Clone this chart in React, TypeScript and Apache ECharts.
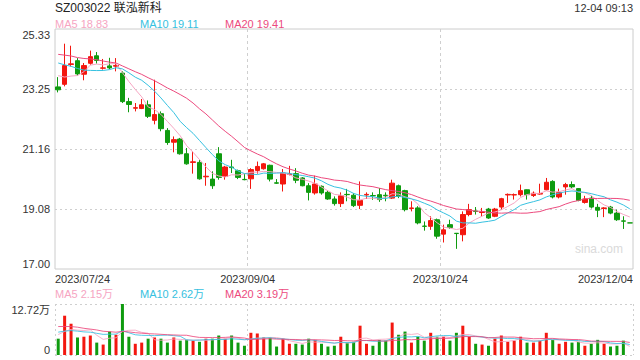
import React, { useEffect, useRef } from "react";
import * as echarts from "echarts";

// Trading days 2023/07/24 .. 2023/12/04
const dates = [
  "07-24","07-25","07-26","07-27","07-28","07-31",
  "08-01","08-02","08-03","08-04","08-07","08-08","08-09","08-10","08-11","08-14","08-15","08-16","08-17","08-18","08-21","08-22","08-23","08-24","08-25","08-28","08-29","08-30","08-31",
  "09-01","09-04","09-05","09-06","09-07","09-08","09-11","09-12","09-13","09-14","09-15","09-18","09-19","09-20","09-21","09-22","09-25","09-26","09-27","09-28",
  "10-09","10-10","10-11","10-12","10-13","10-16","10-17","10-18","10-19","10-20","10-23","10-24","10-25","10-26","10-27","10-30","10-31",
  "11-01","11-02","11-03","11-06","11-07","11-08","11-09","11-10","11-13","11-14","11-15","11-16","11-17","11-20","11-21","11-22","11-23","11-24","11-27","11-28","11-29","11-30",
  "12-01","12-04",
];

const opens = [
  23.32,23.41,24.10,24.23,23.76,24.14,24.40,23.97,24.05,24.04,
  23.80,22.81,22.58,22.57,22.70,22.16,22.39,21.81,21.40,21.51,
  21.00,20.70,20.70,20.20,20.12,21.00,20.21,20.54,20.41,20.11,
  20.13,20.42,20.48,20.60,19.99,19.95,20.28,20.31,20.16,19.89,
  19.64,19.87,19.66,19.43,19.27,19.59,19.56,19.21,19.57,19.55,
  19.58,19.56,19.46,19.89,19.72,19.10,19.12,18.49,18.48,18.71,
  18.21,18.54,18.24,18.19,18.89,19.01,18.96,19.08,18.83,19.15,
  19.57,19.57,19.58,19.75,19.55,19.60,19.75,20.04,19.50,19.85,
  19.93,19.79,19.31,19.46,19.14,19.10,19.15,18.94,18.67,18.60,
];
const closes = [
  23.22,24.06,24.12,23.77,24.06,24.37,24.24,23.98,23.98,24.06,
  22.81,22.71,22.60,22.70,22.30,22.36,21.87,21.39,21.49,21.00,
  20.65,20.72,20.13,20.22,19.89,20.18,20.54,20.52,20.18,20.10,
  20.45,20.56,20.65,20.12,19.98,20.33,20.30,20.08,19.89,19.66,
  19.95,19.64,19.43,19.27,19.54,19.58,19.20,19.38,19.59,19.54,
  19.41,19.54,19.98,19.52,19.06,19.12,18.60,18.48,18.68,18.14,
  18.36,18.44,18.23,18.89,19.06,19.00,18.98,18.77,19.08,19.44,
  19.59,19.58,19.72,19.58,19.63,19.62,20.01,19.50,19.66,19.93,
  19.85,19.38,19.43,19.15,19.04,19.12,18.94,18.71,18.66,18.60,
];
const lows = [
  23.13,23.34,24.03,23.71,23.55,24.09,24.13,23.92,23.93,23.86,
  22.76,22.44,22.47,22.55,22.24,22.02,21.78,21.31,21.05,20.97,
  20.62,20.31,20.10,19.89,19.78,20.10,20.10,20.33,20.12,20.08,
  19.78,20.31,20.45,20.04,19.95,19.69,20.25,19.98,19.87,19.38,
  19.58,19.58,19.40,19.20,19.15,19.35,19.15,19.08,19.43,19.40,
  19.33,19.35,19.43,19.46,19.00,19.00,18.55,18.33,18.36,18.05,
  17.92,18.39,17.70,17.96,18.83,18.89,18.83,18.74,18.80,19.06,
  19.29,19.41,19.52,19.41,19.50,19.58,19.73,19.45,19.45,19.58,
  19.80,19.35,19.27,19.10,18.80,18.80,18.90,18.67,18.39,18.60,
];
const highs = [
  23.66,24.82,24.75,24.32,24.15,24.58,24.53,24.29,24.33,24.32,
  23.86,22.94,22.76,22.90,22.85,23.57,22.47,21.89,21.60,21.55,
  21.20,21.08,20.79,20.68,20.39,21.23,20.58,20.79,20.45,20.31,
  20.50,20.73,20.68,20.62,20.12,20.47,20.58,20.50,20.19,19.98,
  20.24,19.90,19.73,19.52,19.66,19.78,19.63,20.04,19.66,19.66,
  19.81,19.66,20.10,19.93,19.75,19.35,19.18,18.65,18.83,18.75,
  18.54,18.71,18.25,19.00,19.26,19.15,19.12,19.12,19.12,19.47,
  19.62,19.62,19.93,19.76,19.69,19.96,20.16,20.08,19.79,19.99,
  20.04,19.81,19.54,19.54,19.26,19.15,19.19,19.06,18.83,18.60,
];
// volume in 万
const volumes = [
  4.07,9.80,7.80,4.37,4.56,4.86,3.09,2.60,5.84,5.05,
  12.72,4.56,2.80,3.09,4.07,4.37,4.07,3.09,4.37,3.58,
  3.78,3.58,3.29,4.07,4.07,4.86,4.07,4.86,3.09,2.31,
  5.54,5.35,4.37,4.37,2.11,4.07,2.80,2.80,2.60,4.07,
  3.78,2.80,2.11,2.31,4.56,3.09,3.29,7.31,2.80,2.31,
  3.78,3.58,8.09,5.05,5.84,3.09,4.56,3.58,5.54,4.56,
  4.56,3.58,5.54,7.31,4.56,2.80,2.60,2.31,4.07,4.86,
  3.29,3.58,4.56,3.09,3.09,3.58,5.54,3.78,2.80,3.29,
  3.09,3.29,2.31,2.80,3.78,2.80,2.11,2.31,3.58,0,
];
// estimated sessions before 07/24, only used to seed the moving averages
const priorCloses = [
  24.60,24.72,24.85,24.70,24.66,24.80,24.90,24.75,24.66,24.86,
  24.70,24.62,24.55,24.60,24.48,24.30,23.95,23.68,23.40,
];
const priorVolumes = [
  9.5,8.2,7.6,10.1,8.8,7.4,9.0,8.1,7.5,8.8,
  7.2,6.5,5.8,6.4,5.6,5.9,5.2,5.4,4.93,
];

const yTickLabels = ["17.00", "19.08", "21.16", "23.25", "25.33"];
const volTickLabels = ["0", "12.72万"];
const xTickLabels = ["2023/07/24", "2023/09/04", "2023/10/24", "2023/12/04"];
const priceLegend = [
  { name: "MA5", value: "18.83" },
  { name: "MA10", value: "19.11" },
  { name: "MA20", value: "19.41" },
];
const volLegend = [
  { name: "MA5", value: "2.15万" },
  { name: "MA10", value: "2.62万" },
  { name: "MA20", value: "3.19万" },
];
const maPeriods = [5, 10, 20];
const titleText = "SZ003022 联泓新科";
const timeText = "12-04 09:13";

const RED = "#f3170f";
const GREEN = "#0f9b0f";
const MA_COLORS = ["#f6a5c2", "#36c1e0", "#ec4a7e"];
const FONT = 'Arial, "Liberation Sans", "Noto Sans CJK SC", sans-serif';

function movingAverage(prior: number[], values: number[], n: number): number[] {
  const all = prior.concat(values);
  return values.map((_, i) => {
    const idx = prior.length + i;
    let s = 0;
    for (let k = idx - n + 1; k <= idx; k++) s += all[k];
    return +(s / n).toFixed(3);
  });
}

export default function App() {
  const ref = useRef<HTMLDivElement>(null);
  useEffect(() => {
    if (!ref.current) return;
    const chart = echarts.init(ref.current, undefined, { renderer: "svg" });

    const Y_MIN = 17, Y_MAX = 25.33, Y_INT = 2.0825;
    const candleData = opens.map((o, i) => [o, closes[i], lows[i], highs[i]]);
    const signs = closes.map((c, i) => {
      if (c > opens[i]) return 1;
      if (c < opens[i]) return -1;
      return i > 0 && closes[i - 1] > c ? -1 : 1;
    });
    const volData = volumes.map((v, i) => ({
      value: v,
      itemStyle: { color: signs[i] > 0 ? RED : GREEN },
    }));

    const priceMA = maPeriods.map((n, k) => ({
      type: "line",
      xAxisIndex: 0,
      yAxisIndex: 0,
      data: movingAverage(priorCloses, closes, n),
      symbol: "none",
      silent: true,
      lineStyle: { width: 1, color: MA_COLORS[k] },
      z: 3,
    }));
    const volMA = maPeriods.map((n, k) => ({
      type: "line",
      xAxisIndex: 2,
      yAxisIndex: 1,
      data: movingAverage(priorVolumes, volumes, n),
      symbol: "none",
      silent: true,
      lineStyle: { width: 1, color: MA_COLORS[k], opacity: 0.85 },
      z: 3,
    }));

    const legendItems: any[] = [];
    const legendX = [55, 140, 225];
    priceLegend.forEach((l, k) => {
      legendItems.push({
        type: "text", x: legendX[k], y: 24,
        style: { text: `${l.name} ${l.value}`, fill: MA_COLORS[k], font: `11px ${FONT}`, verticalAlign: "middle", align: "left" },
      });
    });
    volLegend.forEach((l, k) => {
      legendItems.push({
        type: "text", x: legendX[k], y: 294,
        style: { text: `${l.name} ${l.value}`, fill: MA_COLORS[k], font: `11px ${FONT}`, verticalAlign: "middle", align: "left" },
      });
    });

    const dotted = { color: "#cfcfcf", type: [2, 3] as any, width: 1 };

    chart.setOption({
      animation: false,
      backgroundColor: "#fff",
      textStyle: { fontFamily: FONT },
      grid: [
        { left: 55, right: 7, top: 29, height: 240, show: true, borderColor: "#cccccc", borderWidth: 1, backgroundColor: "transparent" },
        { left: 55, right: 7, top: 304, height: 51, show: false },
      ],
      xAxis: [
        { type: "category", gridIndex: 0, data: dates, show: false, boundaryGap: true },
        {
          type: "value", gridIndex: 0, min: 0, max: 90, interval: 30, position: "bottom",
          axisLine: { show: false }, axisTick: { show: false },
          axisLabel: {
            show: true, margin: 4, fontSize: 11, color: "#333", fontFamily: FONT,
            alignMinLabel: "left", alignMaxLabel: "right",
            formatter: (v: number) => xTickLabels[Math.round(v / 30)] ?? "",
          },
          splitLine: { show: true, showMinLine: false, showMaxLine: false, lineStyle: { color: "#cfcfcf", type: [3, 3], width: 1 } },
        },
        { type: "category", gridIndex: 1, data: dates, show: false, boundaryGap: true },
        {
          type: "value", gridIndex: 1, min: 0, max: 90, interval: 30, position: "bottom",
          axisLine: { show: false }, axisTick: { show: false }, axisLabel: { show: false },
          splitLine: { show: true, showMinLine: true, showMaxLine: true, lineStyle: dotted },
        },
      ],
      yAxis: [
        {
          type: "value", gridIndex: 0, min: Y_MIN, max: Y_MAX, interval: Y_INT, scale: true,
          axisLine: { show: false }, axisTick: { show: false },
          axisLabel: {
            fontSize: 11, color: "#333", margin: 5, fontFamily: FONT,
            verticalAlignMinLabel: "bottom", verticalAlignMaxLabel: "top",
            formatter: (v: number) => yTickLabels[Math.round((v - Y_MIN) / Y_INT)] ?? "",
          },
          splitLine: { show: true, showMinLine: false, showMaxLine: false, lineStyle: dotted },
        },
        {
          type: "value", gridIndex: 1, min: 0, max: 12.72, interval: 12.72,
          axisLine: { show: false }, axisTick: { show: false },
          axisLabel: {
            fontSize: 11, color: "#333", margin: 5, fontFamily: FONT,
            verticalAlignMinLabel: "bottom", verticalAlignMaxLabel: "top",
            formatter: (v: number) => (v === 0 ? volTickLabels[0] : volTickLabels[1]),
          },
          splitLine: { show: true, showMinLine: true, showMaxLine: true, lineStyle: dotted },
        },
      ],
      series: [
        {
          type: "candlestick",
          xAxisIndex: 0,
          yAxisIndex: 0,
          data: candleData,
          barWidth: 5,
          silent: true,
          itemStyle: {
            color: RED, color0: GREEN, borderColor: RED, borderColor0: GREEN,
            borderColorDoji: GREEN, borderWidth: 1,
          },
          z: 2,
        },
        ...priceMA,
        {
          type: "bar",
          xAxisIndex: 2,
          yAxisIndex: 1,
          data: volData,
          barWidth: 3,
          silent: true,
          z: 2,
        },
        ...volMA,
      ],
      graphic: [
        { type: "text", x: 55, y: 8, style: { text: titleText, fill: "#222", font: `12px ${FONT}`, verticalAlign: "middle", align: "left" } },
        { type: "text", x: 633, y: 8, style: { text: timeText, fill: "#333", font: `11px ${FONT}`, verticalAlign: "middle", align: "right" } },
        { type: "text", x: 623, y: 249, z: 0, style: { text: "sina.com", fill: "#dadada", font: `12px ${FONT}`, verticalAlign: "middle", align: "right" } },
        ...legendItems,
      ],
    });
    return () => chart.dispose();
  }, []);
  return <div ref={ref} style={{ position: "absolute", left: 0, top: 0, width: 640, height: 360 }} />;
}
